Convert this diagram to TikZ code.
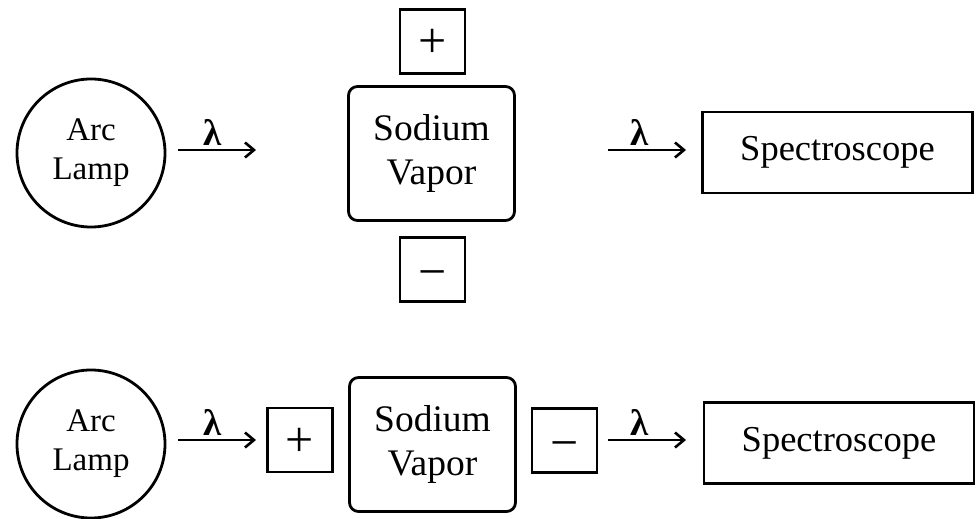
\documentclass[tikz,border=0pt]{standalone}
\usepackage{fontspec}
\setmainfont{Liberation Serif}
\usetikzlibrary{arrows.meta}
\tikzset{
  lamp/.style={draw, circle, line width=2.8pt, inner sep=0pt, minimum size=148pt,
    align=center, font=\fontsize{33}{39}\selectfont},
  vapor/.style={draw, rounded corners=9pt, line width=2.8pt, minimum width=166pt,
    minimum height=134pt, align=center, font=\fontsize{37.5}{44}\selectfont},
  pole/.style={draw, line width=2.5pt, minimum width=65pt, minimum height=64pt,
    inner sep=0pt, text depth=0pt, font=\fontsize{50}{50}\selectfont},
  anode/.style={pole, text height=32pt},
  cathode/.style={pole, text height=38pt},
  scope box/.style={draw, line width=2.8pt, minimum width=270pt, minimum height=81pt,
    font=\fontsize{36.5}{44}\selectfont},
  beam/.style={line width=2.3pt, -{Straight Barb[length=9pt,width=15pt,line width=2.6pt]}},
  wave/.style={inner sep=0pt, anchor=base, font=\fontsize{37}{37}\selectfont\bfseries}
}
\begin{document}
\begin{tikzpicture}[x=1pt, y=-1pt]
\useasboundingbox (0,0) rectangle (980,519);

% upper arrangement: field applied across the vapour
\node[lamp] (lampA) at (91,153) {Arc\\Lamp};
\coordinate (a1s) at (178,150);
\coordinate (a1e) at (256,150);
\draw[beam] (a1s) -- (a1e);
\node[wave] (l1) at (213,145) {λ};

\node[vapor] (vapA) at (431.5,153.5) {Sodium\\Vapor};
\node[anode] (plusA) at (432.5,41.5) {+};
\node[cathode] (minusA) at (432.5,269.5) {−};

\coordinate (a2s) at (608,150);
\coordinate (a2e) at (686,150);
\draw[beam] (a2s) -- (a2e);
\node[wave] (l2) at (640,145) {λ};
\node[scope box] (specA) at (837.5,152.5) {Spectroscope};

% lower arrangement: field along the beam
\node[lamp] (lampB) at (91,444) {Arc\\Lamp};
\coordinate (b1s) at (178,440);
\coordinate (b1e) at (256,440);
\draw[beam] (b1s) -- (b1e);
\node[wave] (l3) at (213,435) {λ};

\node[anode] (plusB) at (300,440) {+};
\node[vapor] (vapB) at (432.5,444.5) {Sodium\\Vapor};
\node[cathode] (minusB) at (564.5,440.5) {−};

\coordinate (b2s) at (608,440);
\coordinate (b2e) at (686,440);
\draw[beam] (b2s) -- (b2e);
\node[wave] (l4) at (640,435) {λ};
\node[scope box] (specB) at (839,443) {Spectroscope};
\end{tikzpicture}
\end{document}
